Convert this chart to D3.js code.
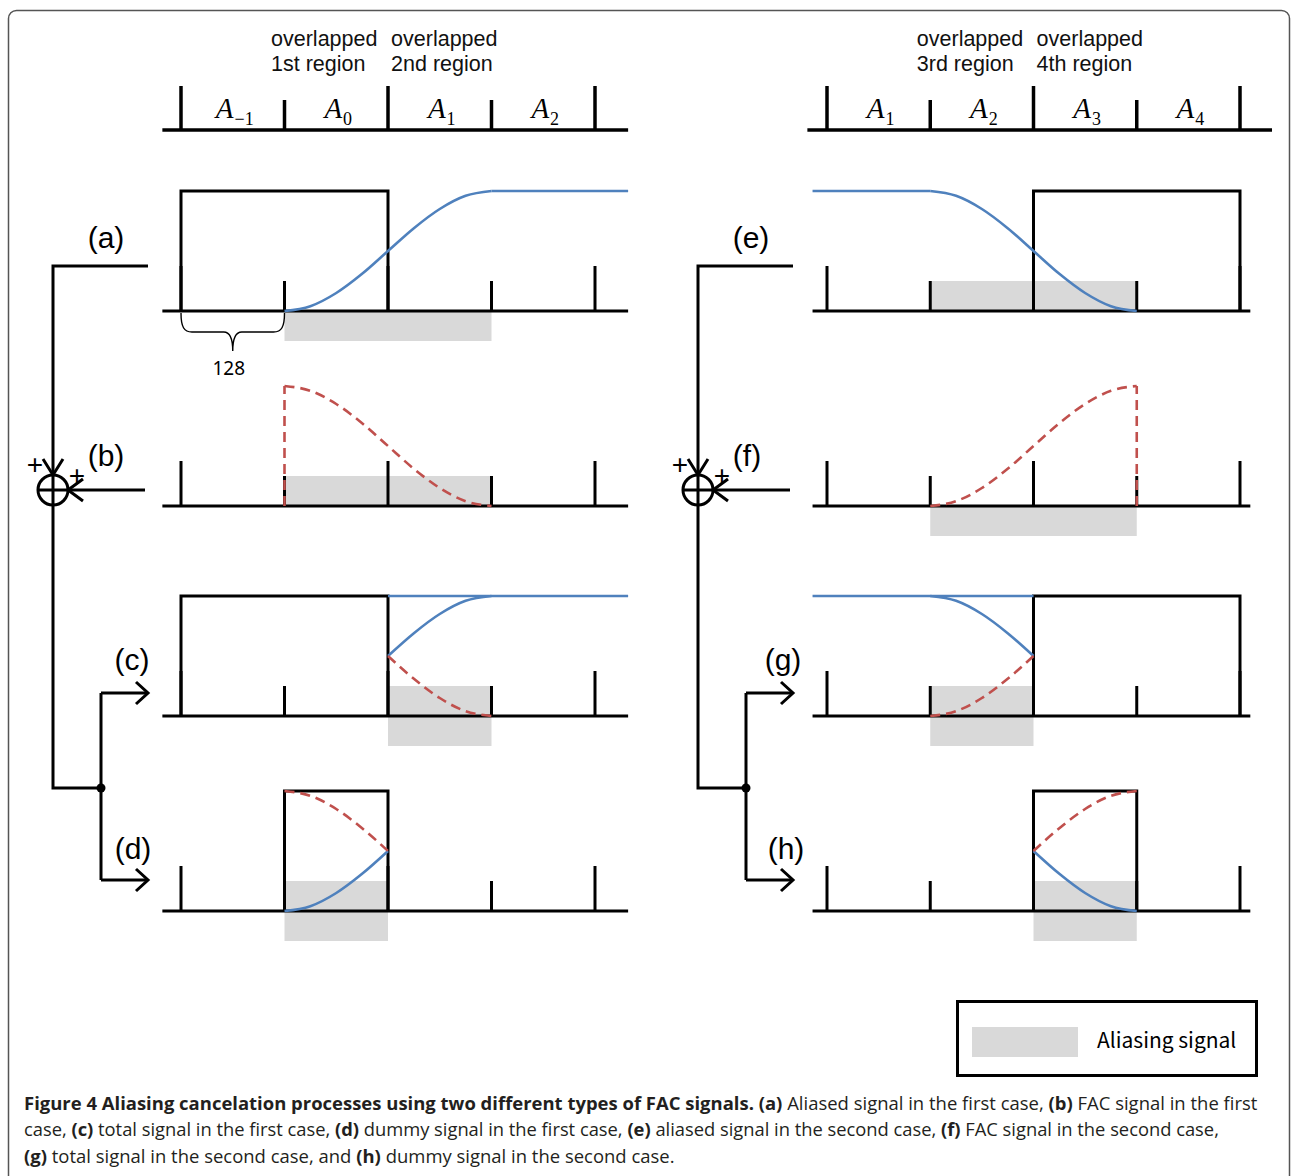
<!DOCTYPE html>
<html>
<head>
	<meta charset="utf-8">
	<script src="https://d3js.org/d3.v7.min.js"></script>
	<title>Figure 4</title>
	<style>
		body { margin: 0; background: #fff; }
	</style>
</head>
<body>
	<div id="fig"></div>

	<script type="text/javascript">

		var riseShape = [0, 0.04, 0.15, 0.31, 0.5, 0.69, 0.85, 0.96, 1];

		var panelIds = ["a", "b", "c", "d", "e", "f", "g", "h"];
		// black window boxes [from, to] in block units, null = none
		var windowRects = [[0, 2], null, [0, 2], [1, 2], [2, 4], null, [2, 4], [2, 3]];
		// grey aliasing spans
		var aliasSpans = [[1, 3], [1, 3], [2, 3], [1, 2], [1, 3], [1, 3], [1, 2], [2, 3]];
		var aliasSide = ["below", "above", "both", "both", "above", "below", "both", "both"];
		var tickLevels = ["tall", "short", "tall", "short", "tall"];

		// [panel, x0, x1, firstSample, lastSample, flipped]
		var blueCurves = [[0, 1, 3, 0, 8, false], [2, 2, 3, 4, 8, false], [3, 1, 2, 0, 4, false],
		                  [4, 1, 3, 0, 8, true], [6, 1, 2, 0, 4, true], [7, 2, 3, 4, 8, true]];
		var redCurves = [[1, 1, 3, 0, 8, true], [2, 2, 3, 4, 8, true], [3, 1, 2, 0, 4, true],
		                 [5, 1, 3, 0, 8, false], [6, 1, 2, 0, 4, false], [7, 2, 3, 4, 8, false]];
		// flat blue parts at full level [panel, from, to]
		var blueFlats = [[0, 3, 4.32], [2, 2, 4.32], [4, -0.14, 1], [6, -0.14, 2]];
		// red dashed verticals [panel, x]
		var redVerticals = [[1, 1], [5, 3]];

		var headerSubsLeft = ["\u22121", "0", "1", "2"];
		var headerSubsRight = ["1", "2", "3", "4"];
		var overlapNotesLeft = [["overlapped", "1st region"], ["overlapped", "2nd region"]];
		var overlapNotesRight = [["overlapped", "3rd region"], ["overlapped", "4th region"]];

		var legendLabel = "Aliasing signal";
		var captionLines = [
			[["Figure 4 Aliasing cancelation processes using two different types of FAC signals. (a)", true],
			 [" Aliased signal in the first case, ", false], ["(b)", true], [" FAC signal in the first", false]],
			[["case, ", false], ["(c)", true], [" total signal in the first case, ", false], ["(d)", true],
			 [" dummy signal in the first case, ", false], ["(e)", true], [" aliased signal in the second case, ", false],
			 ["(f)", true], [" FAC signal in the second case,", false]],
			[["(g)", true], [" total signal in the second case, and ", false], ["(h)", true],
			 [" dummy signal in the second case.", false]]
		];

		var W = 1292, H = 1176;
		var blue = "#4f81bd", red = "#c0504d", grey = "#d9d9d9";

		var svg = d3.select("#fig").append("svg")
			.attr("width", W)
			.attr("height", H);

		// outer frame
		svg.append("rect")
			.attr("x", 8.5).attr("y", 10.5)
			.attr("width", 1281).attr("height", 1260)
			.attr("rx", 8)
			.attr("fill", "none")
			.attr("stroke", "#555")
			.attr("stroke-width", 1.5);

		var xLeft = d3.scaleLinear().domain([0, 4]).range([181, 595]);
		var xRight = d3.scaleLinear().domain([0, 4]).range([827, 1240]);
		var rowBase = [311, 506, 716, 911];
		var amp = 120;

		function xFor(p) { return p < 4 ? xLeft : xRight; }
		function yFor(p) {
			var b = rowBase[p % 4];
			return d3.scaleLinear().domain([0, 1]).range([b, b - amp]);
		}

		// ---------- header axes ----------
		function header(x, subs, notes, ext) {
			var g = svg.append("g");
			g.append("line")
				.attr("x1", x(ext[0])).attr("x2", x(ext[1]))
				.attr("y1", 130).attr("y2", 130)
				.attr("stroke", "#000").attr("stroke-width", 3.5);
			g.selectAll(".htick").data(tickLevels).enter().append("line")
				.attr("x1", function(d, i){ return x(i); })
				.attr("x2", function(d, i){ return x(i); })
				.attr("y1", function(d){ return d == "tall" ? 86 : 100; })
				.attr("y2", 130)
				.attr("stroke", "#000").attr("stroke-width", 3.5);
			var lab = g.selectAll(".hlab").data(subs).enter().append("text")
				.attr("x", function(d, i){ return x(i + 0.5) + 2; })
				.attr("y", 118)
				.attr("text-anchor", "middle")
				.attr("font-family", "Liberation Serif, serif")
				.attr("font-size", 29);
			lab.append("tspan").attr("font-style", "italic").text("A");
			lab.append("tspan").attr("font-size", 18).attr("dy", 7).attr("dx", 1)
				.text(function(d){ return d; });
			notes.forEach(function(n, i){
				n.forEach(function(s, j){
					g.append("text")
						.attr("x", x(i == 0 ? 0.87 : 2.03))
						.attr("y", 46 + j * 25)
						.attr("font-family", "Liberation Sans, Arial, sans-serif")
						.attr("font-size", 21.5)
						.attr("fill", "#111")
						.text(s);
				});
			});
		}
		header(xLeft, headerSubsLeft, overlapNotesLeft, [-0.18, 4.32]);
		header(xRight, headerSubsRight, overlapNotesRight, [-0.19, 4.31]);

		// ---------- panels ----------
		var line = d3.line().curve(d3.curveMonotoneX);

		panelIds.forEach(function(id, p){
			var x = xFor(p), y = yFor(p);
			var g = svg.append("g").attr("class", "panel-" + id);
			var ext = p < 4 ? [-0.18, 4.32] : [-0.14, 4.1];

			// grey aliasing area
			var span = aliasSpans[p], side = aliasSide[p];
			var lo = side == "above" ? 0 : -0.25, hi = side == "below" ? 0 : 0.25;
			g.append("rect")
				.attr("x", x(span[0])).attr("width", x(span[1]) - x(span[0]))
				.attr("y", y(hi)).attr("height", y(lo) - y(hi))
				.attr("fill", grey);

			// baseline and block ticks
			g.append("line")
				.attr("x1", x(ext[0])).attr("x2", x(ext[1]))
				.attr("y1", y(0)).attr("y2", y(0))
				.attr("stroke", "#000").attr("stroke-width", 3);
			g.selectAll(".tick").data(tickLevels).enter().append("line")
				.attr("x1", function(d, i){ return x(i); })
				.attr("x2", function(d, i){ return x(i); })
				.attr("y1", function(d){ return y(d == "tall" ? 0.375 : 0.25); })
				.attr("y2", y(0))
				.attr("stroke", "#000").attr("stroke-width", 3);

			// window box
			if (windowRects[p]) {
				var r = windowRects[p];
				g.append("path")
					.attr("d", "M" + x(r[0]) + "," + y(0) + "V" + y(1) + "H" + x(r[1]) + "V" + y(0))
					.attr("fill", "none").attr("stroke", "#000").attr("stroke-width", 3);
			}
		});

		function curvePoints(c) {
			var pts = [];
			for (var k = c[3]; k <= c[4]; k++) {
				var f = (k - c[3]) / (c[4] - c[3]);
				var v = c[5] ? 1 - riseShape[k] : riseShape[k];
				pts.push([xFor(c[0])(c[1] + (c[2] - c[1]) * f), yFor(c[0])(v)]);
			}
			return pts;
		}

		blueFlats.forEach(function(f){
			svg.append("line")
				.attr("x1", xFor(f[0])(f[1])).attr("x2", xFor(f[0])(f[2]))
				.attr("y1", yFor(f[0])(1)).attr("y2", yFor(f[0])(1))
				.attr("stroke", blue).attr("stroke-width", 2.6);
		});
		svg.selectAll(".blue").data(blueCurves).enter().append("path")
			.attr("class", "blue")
			.attr("d", function(c){ return line(curvePoints(c)); })
			.attr("fill", "none").attr("stroke", blue).attr("stroke-width", 2.6);

		redVerticals.forEach(function(v){
			svg.append("line")
				.attr("x1", xFor(v[0])(v[1])).attr("x2", xFor(v[0])(v[1]))
				.attr("y1", yFor(v[0])(0)).attr("y2", yFor(v[0])(1))
				.attr("stroke", red).attr("stroke-width", 2.6)
				.attr("stroke-dasharray", "10,6");
		});
		svg.selectAll(".red").data(redCurves).enter().append("path")
			.attr("class", "red")
			.attr("d", function(c){ return line(curvePoints(c)); })
			.attr("fill", "none").attr("stroke", red).attr("stroke-width", 2.6)
			.attr("stroke-dasharray", "10,6");

		// brace with 128 under first block of (a)
		var b0 = xLeft(0), b1 = xLeft(1), bm = (b0 + b1) / 2, by = rowBase[0];
		svg.append("path")
			.attr("d", "M" + b0 + "," + (by + 2) + "C" + b0 + "," + (by + 16) + " " + (b0 + 3) + "," + (by + 21) + " " + (b0 + 11) + "," + (by + 21) +
				"L" + (bm - 9) + "," + (by + 21) + "C" + (bm - 3) + "," + (by + 21) + " " + bm + "," + (by + 26) + " " + bm + "," + (by + 40) +
				"C" + bm + "," + (by + 26) + " " + (bm + 3) + "," + (by + 21) + " " + (bm + 9) + "," + (by + 21) +
				"L" + (b1 - 11) + "," + (by + 21) + "C" + (b1 - 3) + "," + (by + 21) + " " + b1 + "," + (by + 16) + " " + b1 + "," + (by + 2))
			.attr("fill", "none").attr("stroke", "#000").attr("stroke-width", 1.4);
		svg.append("text")
			.attr("x", bm - 4).attr("y", by + 64)
			.attr("text-anchor", "middle")
			.attr("font-family", "Noto Sans, sans-serif")
			.attr("font-size", 19)
			.text("128");

		// ---------- signal flow wiring ----------
		function wiring(dx, labels) {
			var g = svg.append("g").attr("transform", "translate(" + dx + ",0)")
				.attr("fill", "none").attr("stroke", "#000").attr("stroke-width", 3);
			var cx = 53, cy = 490, rr = 15, jx = 101, jy = 788;
			g.append("path").attr("d", "M148,266H" + cx + "V" + (cy - rr));
			g.append("path").attr("d", "M" + (cx - 10) + "," + (cy - rr - 16) + "L" + cx + "," + (cy - rr) + "L" + (cx + 10) + "," + (cy - rr - 16));
			g.append("circle").attr("cx", cx).attr("cy", cy).attr("r", rr);
			g.append("path").attr("d", "M" + cx + "," + (cy - rr) + "V" + jy + "H" + jx);
			g.append("path").attr("d", "M" + (cx - rr) + "," + cy + "H145");
			g.append("path").attr("d", "M" + (cx + rr + 15) + "," + (cy - 11) + "L" + (cx + rr) + "," + cy + "L" + (cx + rr + 15) + "," + (cy + 11));
			g.append("path").attr("d", "M" + jx + ",693V880");
			[693, 880].forEach(function(yy){
				g.append("path").attr("d", "M" + jx + "," + yy + "H148");
				g.append("path").attr("d", "M136," + (yy - 11) + "L148," + yy + "L136," + (yy + 11));
			});
			g.append("circle").attr("cx", jx).attr("cy", jy).attr("r", 4.5).attr("fill", "#000").attr("stroke", "none");

			var t = svg.append("g").attr("transform", "translate(" + dx + ",0)")
				.attr("font-family", "Liberation Sans, Arial, sans-serif").attr("fill", "#000");
			t.append("text").attr("x", 35).attr("y", 474).attr("text-anchor", "middle").attr("font-size", 28).text("+");
			t.append("text").attr("x", 77).attr("y", 485).attr("text-anchor", "middle").attr("font-size", 28).text("+");
			var pos = [[106, 248], [106, 466], [132, 670], [133, 859]];
			labels.forEach(function(l, i){
				t.append("text").attr("x", pos[i][0] + (dx ? l.shift : 0)).attr("y", pos[i][1])
					.attr("text-anchor", "middle").attr("font-size", 30).text("(" + l.id + ")");
			});
		}
		wiring(0, [{id: "a"}, {id: "b"}, {id: "c"}, {id: "d"}]);
		wiring(645, [{id: "e", shift: 0}, {id: "f", shift: -4}, {id: "g", shift: 6}, {id: "h", shift: 8}]);

		// ---------- legend ----------
		svg.append("rect")
			.attr("x", 957.5).attr("y", 1001.5).attr("width", 299).attr("height", 74)
			.attr("fill", "none").attr("stroke", "#000").attr("stroke-width", 3);
		svg.append("rect")
			.attr("x", 972).attr("y", 1027).attr("width", 106).attr("height", 30)
			.attr("fill", grey);
		svg.append("text")
			.attr("x", 1097).attr("y", 1048)
			.attr("font-family", "Noto Sans CJK KR, Noto Sans, sans-serif")
			.attr("font-size", 21)
			.text(legendLabel);

		// ---------- caption ----------
		var capBase = [1110, 1136, 1163];
		var capEnd = [1258, 1220, 675];
		captionLines.forEach(function(segs, i){
			var t = svg.append("text")
				.attr("font-family", "Open Sans, sans-serif")
				.attr("font-size", 17.5)
				.attr("fill", "#231f20");
			segs.forEach(function(s){
				t.append("tspan").attr("font-weight", s[1] ? "bold" : "normal").text(s[0]);
			});
			var w = t.node().getComputedTextLength();
			t.attr("transform", "translate(24," + capBase[i] + ") scale(" + ((capEnd[i] - 24) / w) + ",1)");
		});

	</script>
</body>
</html>
